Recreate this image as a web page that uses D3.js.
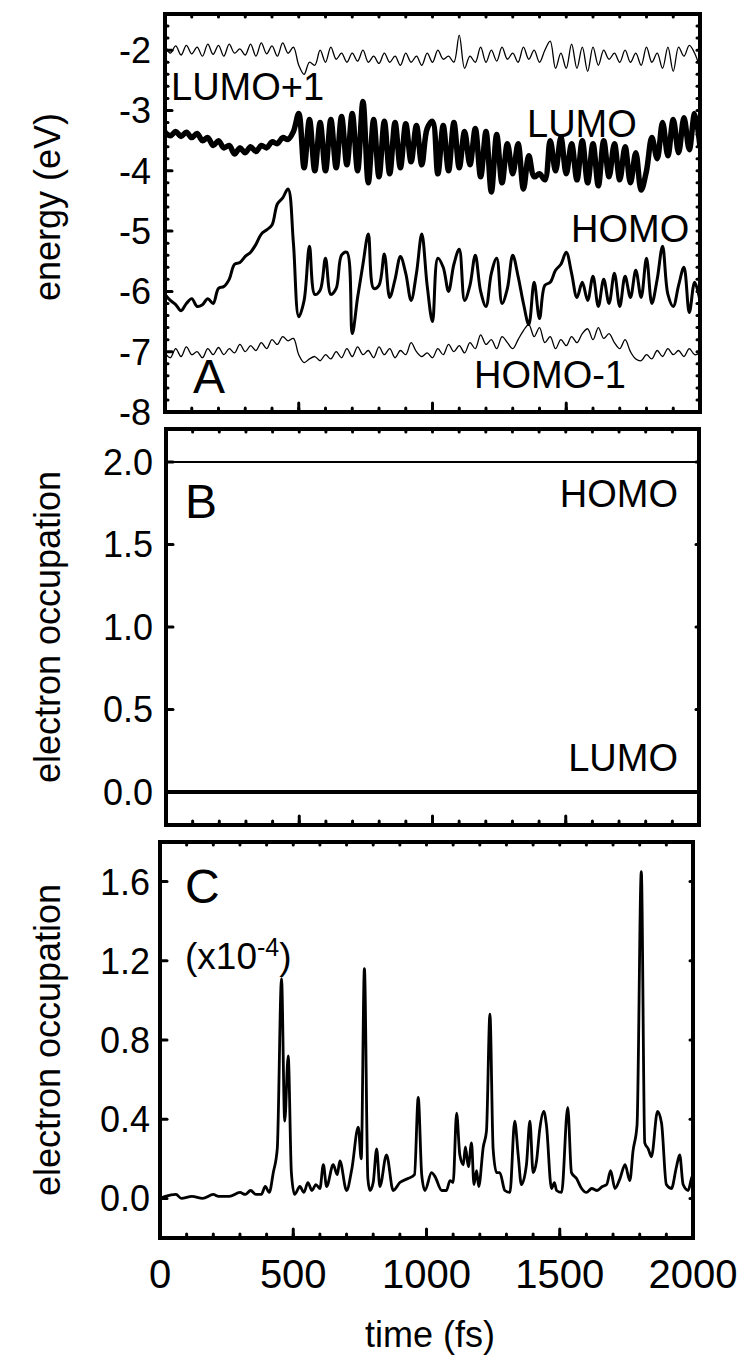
<!DOCTYPE html>
<html>
<head>
<meta charset="utf-8">
<title>Orbital energies and occupations</title>
<style>
  body {margin: 0; background: #fff;}
  svg {font-family: "Liberation Sans", Arial, sans-serif;}
  .frame {fill: none; stroke: #000; stroke-width: 4;}
  .curve {fill: none; stroke: #000; stroke-linejoin: round;}
</style>
</head>
<body>
<svg id="chart" width="746" height="1364"></svg>
<script src="https://d3js.org/d3.v7.min.js"></script>
<script>
// ---- data ----
// panel A: orbital energies (eV), one value every 20 fs from 0 to 2000 fs
var stepA = 20;
var lumo1 = [
  -1.92,-2.05,-1.93,-2.08,-1.92,-2.06,-1.95,-2.10,-1.90,-2.07,
  -1.92,-2.10,-1.90,-2.05,-1.98,-2.08,-1.90,-2.10,-1.88,-2.06,
  -1.93,-2.10,-1.88,-2.05,-1.95,-2.25,-2.40,-2.20,-2.25,-2.00,
  -2.20,-1.95,-2.15,-2.05,-2.20,-2.05,-2.18,-2.00,-2.20,-2.10,
  -2.22,-2.05,-2.20,-2.10,-2.25,-2.05,-2.20,-2.10,-2.25,-2.05,
  -2.20,-2.00,-2.15,-2.10,-2.20,-1.75,-2.30,-2.10,-2.20,-1.95,
  -2.20,-2.00,-2.18,-1.95,-2.15,-2.05,-2.20,-1.95,-2.15,-2.00,
  -2.20,-2.00,-1.85,-2.30,-2.05,-2.30,-1.90,-2.30,-1.95,-2.35,
  -1.95,-2.25,-2.00,-2.15,-2.05,-2.20,-2.00,-2.20,-2.05,-2.25,
  -1.95,-2.20,-2.05,-2.30,-1.95,-2.35,-1.95,-2.10,-1.92,-2.05,
  -2.30
];
var lumo = [
  -3.36,-3.42,-3.35,-3.43,-3.36,-3.45,-3.38,-3.50,-3.45,-3.58,
  -3.50,-3.62,-3.58,-3.72,-3.62,-3.70,-3.60,-3.68,-3.58,-3.62,
  -3.52,-3.55,-3.45,-3.48,-3.35,-3.05,-3.95,-3.15,-4.00,-3.20,
  -4.00,-3.15,-3.95,-3.10,-3.90,-3.05,-4.00,-2.85,-4.20,-3.15,
  -4.10,-3.18,-4.05,-3.20,-3.95,-3.22,-3.85,-3.25,-3.90,-3.30,
  -3.18,-4.05,-3.25,-4.00,-3.20,-3.95,-3.35,-3.90,-3.30,-4.10,
  -3.35,-4.35,-3.40,-4.20,-3.55,-4.05,-3.55,-4.30,-3.75,-4.10,
  -4.05,-4.15,-3.50,-4.00,-3.45,-4.05,-3.55,-4.15,-3.50,-4.20,
  -3.55,-4.25,-3.50,-4.10,-3.55,-4.15,-3.60,-4.20,-3.70,-4.32,
  -4.00,-3.45,-3.80,-3.20,-3.75,-3.15,-3.70,-3.12,-3.65,-3.05,
  -3.60
];
var homo = [
  -6.05,-6.15,-6.22,-6.32,-6.20,-6.12,-6.25,-6.22,-6.12,-6.20,
  -5.95,-5.92,-5.80,-5.55,-5.52,-5.42,-5.35,-5.22,-5.05,-4.98,
  -4.90,-4.55,-4.45,-4.30,-5.20,-6.42,-6.15,-5.25,-6.05,-5.98,
  -5.45,-6.05,-5.95,-5.40,-5.35,-6.70,-6.10,-5.55,-5.05,-5.95,
  -5.90,-5.38,-6.10,-5.80,-5.42,-5.70,-6.15,-5.70,-5.05,-5.90,
  -6.50,-5.45,-5.60,-6.00,-5.55,-5.30,-6.15,-5.90,-5.40,-6.00,
  -6.25,-5.70,-5.45,-6.20,-5.95,-5.40,-5.75,-6.20,-6.55,-5.85,
  -6.45,-5.90,-5.85,-5.65,-5.55,-5.35,-5.70,-6.10,-5.85,-6.15,
  -5.75,-6.25,-5.80,-6.20,-5.70,-6.25,-5.75,-6.10,-5.65,-6.10,
  -5.45,-6.20,-5.80,-5.25,-6.05,-6.25,-5.90,-5.60,-6.35,-5.85,
  -6.15
];
var homo1 = [
  -7.02,-7.10,-6.95,-7.08,-6.92,-7.05,-7.00,-7.10,-6.95,-7.05,
  -6.93,-7.05,-6.95,-7.02,-6.88,-7.00,-6.90,-6.98,-6.85,-6.95,
  -6.80,-6.88,-6.75,-6.82,-6.78,-7.05,-7.18,-7.12,-7.08,-7.15,
  -7.05,-7.12,-7.00,-7.10,-6.95,-7.08,-6.92,-7.05,-6.98,-7.10,
  -6.92,-7.05,-6.95,-7.10,-6.98,-7.05,-6.85,-7.00,-7.08,-7.02,
  -7.10,-6.95,-7.05,-6.88,-7.00,-6.90,-7.02,-6.85,-6.95,-6.72,
  -6.88,-6.80,-6.95,-6.75,-6.85,-6.95,-6.80,-6.65,-6.55,-6.75,
  -6.60,-6.85,-6.75,-6.95,-6.80,-6.90,-6.75,-6.85,-6.70,-6.62,
  -6.80,-6.60,-6.78,-6.70,-6.85,-6.95,-6.80,-7.00,-7.12,-7.15,
  -7.05,-7.12,-6.98,-7.08,-6.95,-7.05,-6.98,-7.08,-6.95,-7.05,
  -7.02
];

// panel B: occupations stay constant
var occTime = [0, 2000];
var occHomo = [2.0, 2.0];
var occLumo = [0.0, 0.0];

// panel C: LUMO occupation (x1e-4)
var cTime = [0,20,60,80,120,160,200,220,260,300,320,340,360,380,395,410,425,440,456,468,
  481,493,505,525,540,555,570,585,600,613,625,650,665,675,700,720,744,755,767,780,
  788,800,813,825,850,875,900,930,955,969,982,994,1019,1032,1057,1075,1088,1100,1113,1125,
  1138,1146,1157,1169,1178,1188,1196,1213,1225,1238,1250,1263,1275,1294,1313,1331,1344,1356,1375,1388,
  1400,1413,1425,1440,1450,1469,1480,1488,1507,1530,1544,1563,1582,1600,1620,1640,1660,1676,1691,1707,
  1726,1745,1763,1775,1790,1806,1819,1832,1844,1867,1882,1900,1919,1938,1950,1963,1982,1994,2000];
var cVal = [0.00,0.01,0.02,0.00,0.01,0.00,0.02,0.01,0.01,0.03,0.02,0.04,0.02,0.02,0.06,0.03,0.13,0.25,1.11,0.39,
  0.72,0.13,0.02,0.06,0.03,0.08,0.04,0.07,0.05,0.17,0.06,0.17,0.12,0.19,0.04,0.15,0.36,0.20,1.16,0.10,
  0.04,0.08,0.25,0.06,0.22,0.04,0.08,0.10,0.12,0.51,0.12,0.04,0.13,0.11,0.04,0.04,0.09,0.08,0.43,0.22,
  0.17,0.26,0.16,0.28,0.07,0.14,0.06,0.26,0.34,0.93,0.25,0.13,0.13,0.04,0.03,0.39,0.22,0.07,0.17,0.39,
  0.13,0.19,0.35,0.44,0.37,0.05,0.08,0.04,0.03,0.46,0.13,0.10,0.05,0.03,0.05,0.04,0.06,0.07,0.14,0.05,
  0.10,0.17,0.09,0.24,0.37,1.65,0.28,0.25,0.21,0.44,0.38,0.07,0.05,0.16,0.22,0.07,0.04,0.10,0.12];

// tick labels
var xTicks = [0, 500, 1000, 1500, 2000];
var yTicksA = [-8, -7, -6, -5, -4, -3, -2];
var yTicksB = [0.0, 0.5, 1.0, 1.5, 2.0];
var yTicksC = [0.0, 0.4, 0.8, 1.2, 1.6];

// ---- layout ----
var svg = d3.select("#chart");
var panels = {
  A: {left: 165, right: 700, top: 14, bottom: 412, y: [-8, -1.4]},
  B: {left: 166, right: 699, top: 429, bottom: 825, y: [-0.2, 2.2]},
  C: {left: 160, right: 693, top: 842, bottom: 1238, y: [-0.2, 1.8]}
};

function tickLines(g, scale, values, orient, len, pos) {
  // small tick marks pointing into the frame
  values.forEach(function(v) {
    var p = scale(v);
    var line = g.append("line")
      .attr("stroke", "#000").attr("stroke-width", 3).attr("stroke-linecap", "round");
    if (orient == "bottom") line.attr("x1", p).attr("x2", p).attr("y1", pos).attr("y2", pos - len);
    if (orient == "top") line.attr("x1", p).attr("x2", p).attr("y1", pos).attr("y2", pos + len);
    if (orient == "left") line.attr("y1", p).attr("y2", p).attr("x1", pos).attr("x2", pos + len);
    if (orient == "right") line.attr("y1", p).attr("y2", p).attr("x1", pos).attr("x2", pos - len);
  });
}

function setupPanel(key, yMajor, yMinor, yFmt, labelGap) {
  var p = panels[key];
  var x = d3.scaleLinear().domain([0, 2000]).range([p.left, p.right]);
  var y = d3.scaleLinear().domain(p.y).range([p.bottom, p.top]);
  var g = svg.append("g");

  g.append("clipPath").attr("id", "clip" + key)
    .append("rect").attr("x", p.left).attr("y", p.top)
    .attr("width", p.right - p.left).attr("height", p.bottom - p.top);

  var minorX = d3.range(100, 2000, 100);
  tickLines(g, x, minorX, "bottom", 4, p.bottom);
  tickLines(g, x, [500, 1000, 1500], "bottom", 9, p.bottom);
  tickLines(g, x, minorX, "top", 3, p.top);

  if (yMinor.length) {
    tickLines(g, y, yMinor, "left", 3, p.left);
    tickLines(g, y, yMinor, "right", 3, p.right);
  }
  tickLines(g, y, yMajor, "left", 7, p.left);
  tickLines(g, y, yMajor, "right", 3, p.right);

  g.selectAll("text.ytl").data(yMajor).join("text")
    .attr("class", "ytl")
    .attr("x", p.left - labelGap)
    .attr("y", function(d) { return y(d); })
    .attr("dy", "0.36em")
    .attr("text-anchor", "end")
    .attr("font-size", 36)
    .text(yFmt);

  return {g: g, x: x, y: y, p: p};
}

function frame(P) {
  P.g.append("rect").attr("class", "frame")
    .attr("x", P.p.left).attr("y", P.p.top)
    .attr("width", P.p.right - P.p.left).attr("height", P.p.bottom - P.p.top);
}

function label(g, txt, x, y, size, anchor) {
  return g.append("text").attr("x", x).attr("y", y)
    .attr("font-size", size).attr("text-anchor", anchor || "start").text(txt);
}

// ---- panel A ----
var minorA = d3.range(-8, -1.4, 0.2).filter(function(v) { return Math.abs(v - Math.round(v)) > 0.01; });
var A = setupPanel("A", yTicksA, minorA, function(d) { return d; }, 14);
var lineA = d3.line()
  .x(function(d, i) { return A.x(i * stepA); })
  .y(function(d) { return A.y(d); })
  .curve(d3.curveCatmullRom);
[[lumo1, 1.3], [lumo, 5.5], [homo, 3], [homo1, 1.3]].forEach(function(s) {
  A.g.append("path").attr("class", "curve").attr("clip-path", "url(#clipA)")
    .attr("stroke-width", s[1]).attr("d", lineA(s[0]));
});
frame(A);
label(A.g, "LUMO+1", 171, 100, 38);
label(A.g, "LUMO", 527, 137, 38);
label(A.g, "HOMO", 571, 242, 38);
label(A.g, "HOMO-1", 474, 388, 38);
label(A.g, "A", 193, 393, 48);

// ---- panel B ----
var B = setupPanel("B", yTicksB, [], function(d) { return d.toFixed(1); }, 13);
var lineB = d3.line()
  .x(function(d, i) { return B.x(occTime[i]); })
  .y(function(d) { return B.y(d); });
B.g.append("path").attr("class", "curve").attr("stroke-width", 1.8).attr("d", lineB(occHomo));
B.g.append("path").attr("class", "curve").attr("stroke-width", 4).attr("d", lineB(occLumo));
frame(B);
label(B.g, "B", 185, 518, 48);
label(B.g, "HOMO", 678, 507, 38, "end");
label(B.g, "LUMO", 678, 771, 38, "end");

// ---- panel C ----
var C = setupPanel("C", yTicksC, [], function(d) { return d.toFixed(1); }, 10);
var lineC = d3.line()
  .x(function(d, i) { return C.x(cTime[i]); })
  .y(function(d) { return C.y(d); })
  .curve(d3.curveMonotoneX);
C.g.append("path").attr("class", "curve").attr("clip-path", "url(#clipC)")
  .attr("stroke-width", 2.8).attr("d", lineC(cVal));
frame(C);
label(C.g, "C", 185, 903, 48);
var sci = label(C.g, "(x10", 185, 969, 37);
sci.append("tspan").attr("dy", -13).attr("font-size", 25).text("-4");
sci.append("tspan").attr("dy", 13).text(")");

C.g.selectAll("text.xtl").data(xTicks).join("text")
  .attr("class", "xtl")
  .attr("x", function(d) { return C.x(d); })
  .attr("y", 1288)
  .attr("text-anchor", "middle")
  .attr("font-size", 40)
  .text(function(d) { return d; });

// ---- axis titles ----
function yTitle(txt, cy) {
  svg.append("text")
    .attr("transform", "translate(60," + cy + ") rotate(-90)")
    .attr("text-anchor", "middle")
    .attr("font-size", 36)
    .text(txt);
}
yTitle("energy (eV)", 207);
yTitle("electron occupation", 627);
yTitle("electron occupation", 1040);
svg.append("text").attr("x", 430).attr("y", 1347)
  .attr("text-anchor", "middle").attr("font-size", 36).text("time (fs)");
</script>
</body>
</html>
